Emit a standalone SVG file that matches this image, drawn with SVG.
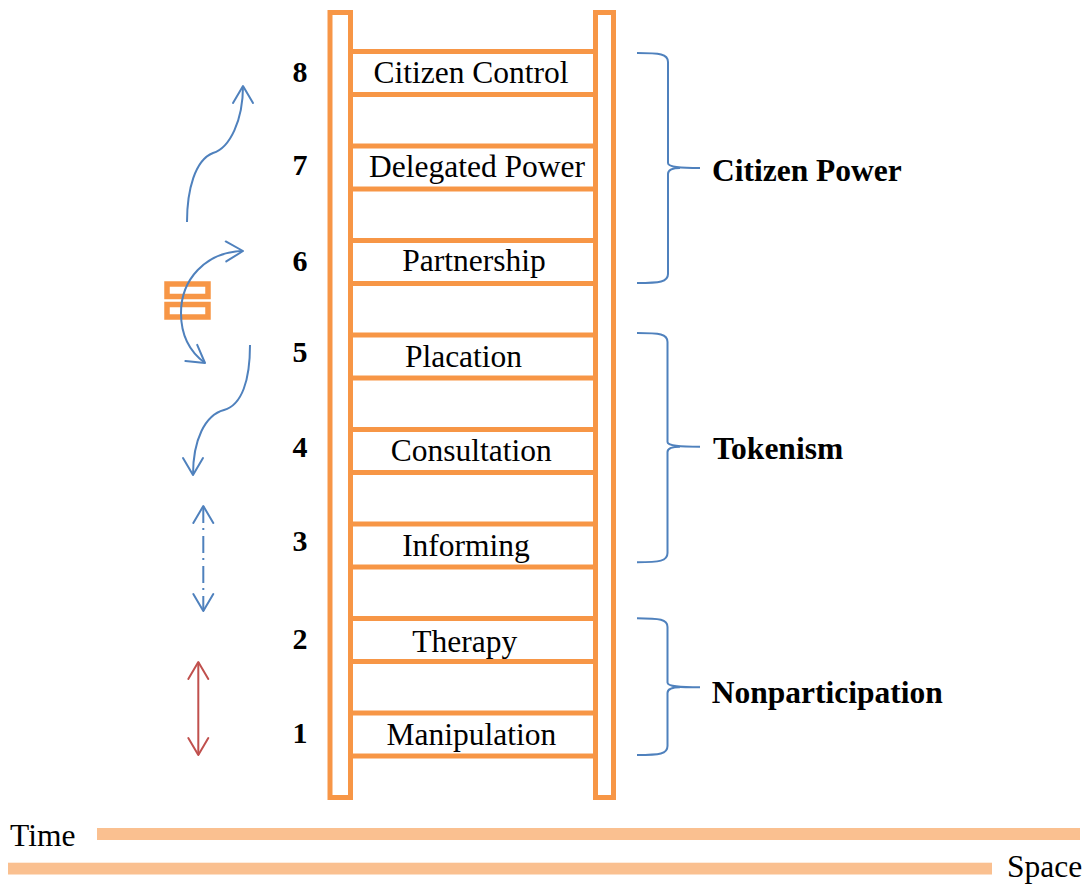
<svg xmlns="http://www.w3.org/2000/svg" width="1091" height="885" viewBox="0 0 1091 885">
  <style>
    .rail { fill: #FFFFFF; stroke: #F79646; stroke-width: 5; }
    .rung { fill: #FFFFFF; stroke: #F79646; stroke-width: 5; }
    .lbl { font-family: "Liberation Serif", "Times New Roman", serif; font-size: 31.5px; fill: #000000; text-anchor: middle; }
    .num { font-family: "Liberation Serif", "Times New Roman", serif; font-size: 30px; font-weight: bold; fill: #000000; text-anchor: middle; }
    .grp { font-family: "Liberation Serif", "Times New Roman", serif; font-size: 31.5px; font-weight: bold; fill: #000000; }
    .axis { font-family: "Liberation Serif", "Times New Roman", serif; font-size: 31.5px; fill: #000000; }
    .brace { fill: none; stroke: #4F81BD; stroke-width: 2; }
    .flow { fill: none; stroke: #4F81BD; stroke-width: 2; }
    .bar { fill: #FAC090; }
  </style>
  <defs>
    <marker id="headBlue" markerUnits="userSpaceOnUse" markerWidth="24" markerHeight="24" refX="18" refY="11" orient="auto-start-reverse" overflow="visible">
      <path d="M1,1 L18,11 L1,21" fill="none" stroke="#4F81BD" stroke-width="2" stroke-linejoin="round" stroke-linecap="round"/>
    </marker>
    <marker id="headRed" markerUnits="userSpaceOnUse" markerWidth="24" markerHeight="24" refX="18" refY="11" orient="auto-start-reverse" overflow="visible">
      <path d="M1,1 L18,11 L1,21" fill="none" stroke="#C0504D" stroke-width="2" stroke-linejoin="round" stroke-linecap="round"/>
    </marker>
  </defs>

  <rect width="1091" height="885" fill="#FFFFFF"/>

  <!-- ladder rails -->
  <g id="ladder">
    <rect class="rail" x="330" y="12.5" width="20.5" height="785"/>
    <rect class="rail" x="595.5" y="12.5" width="18" height="785"/>
  </g>

  <!-- rungs, top (8) to bottom (1) -->
  <g id="rung-8">
    <rect class="rung" x="350.5" y="51.5" width="245" height="43"/>
    <text class="lbl" x="471" y="83">Citizen Control</text>
    <text class="num" x="300" y="82">8</text>
  </g>
  <g id="rung-7">
    <rect class="rung" x="350.5" y="146" width="245" height="43"/>
    <text class="lbl" x="477" y="177">Delegated Power</text>
    <text class="num" x="300" y="175">7</text>
  </g>
  <g id="rung-6">
    <rect class="rung" x="350.5" y="240.5" width="245" height="43"/>
    <text class="lbl" x="474" y="271">Partnership</text>
    <text class="num" x="300" y="271">6</text>
  </g>
  <g id="rung-5">
    <rect class="rung" x="350.5" y="335" width="245" height="43"/>
    <text class="lbl" x="463.5" y="366.5">Placation</text>
    <text class="num" x="300" y="362">5</text>
  </g>
  <g id="rung-4">
    <rect class="rung" x="350.5" y="429.5" width="245" height="43"/>
    <text class="lbl" x="471.3" y="461">Consultation</text>
    <text class="num" x="300" y="457">4</text>
  </g>
  <g id="rung-3">
    <rect class="rung" x="350.5" y="524" width="245" height="43"/>
    <text class="lbl" x="466" y="556">Informing</text>
    <text class="num" x="300" y="551">3</text>
  </g>
  <g id="rung-2">
    <rect class="rung" x="350.5" y="618.5" width="245" height="43"/>
    <text class="lbl" x="464.7" y="652">Therapy</text>
    <text class="num" x="300" y="649">2</text>
  </g>
  <g id="rung-1">
    <rect class="rung" x="350.5" y="713" width="245" height="43"/>
    <text class="lbl" x="471.3" y="744.5">Manipulation</text>
    <text class="num" x="300" y="743">1</text>
  </g>

  <!-- grouping braces -->
  <g id="citizen-power">
    <path class="brace" d="M637,53 C660,53 668,54 668,62 L668,163 C668,167 680,168 700,168 M680,168 C672,168 668,170 668,174 L668,274 C668,282 660,283 637,283"/>
    <text class="grp" x="712" y="181">Citizen Power</text>
  </g>
  <g id="tokenism">
    <path class="brace" d="M637,333 C660,333 667.5,334 667.5,342 L667.5,442 C667.5,446 680,446.7 700,446.7 M680,446.7 C672,446.7 667.5,448.5 667.5,452 L667.5,553 C667.5,561 660,562.3 637,562.3"/>
    <text class="grp" x="713" y="459.3">Tokenism</text>
  </g>
  <g id="nonparticipation">
    <path class="brace" d="M637,618.3 C660,618.3 667.5,619.5 667.5,627 L667.5,682.5 C667.5,686.5 680,687.3 700,687.3 M680,687.3 C672,687.3 667.5,689 667.5,693 L667.5,746 C667.5,754 660,755 637,755"/>
    <text class="grp" x="711.7" y="703.3">Nonparticipation</text>
  </g>

  <!-- rung switch symbol -->
  <g id="switch">
    <rect x="167" y="284" width="41" height="12.5" fill="#FFFFFF" stroke="#F79646" stroke-width="5.5"/>
    <rect x="167" y="304.5" width="41" height="12.5" fill="#FFFFFF" stroke="#F79646" stroke-width="5.5"/>
  </g>

  <!-- movement arrows -->
  <g id="connectors">
    <path class="flow" d="M187,222 C187,190 195,160 213,153 C230,148 243,120 243,86" marker-end="url(#headBlue)"/>
    <path class="flow" d="M205,363 C190,352 181,335 181,313 C181,280 205,252 243,251" marker-start="url(#headBlue)" marker-end="url(#headBlue)"/>
    <path class="flow" d="M250,345 C250,380 242,405 224,410 C205,415 193,440 193,475" marker-end="url(#headBlue)"/>
    <path class="flow" d="M203.3,506 L203.3,611" stroke-dasharray="17 5 2 6" marker-start="url(#headBlue)" marker-end="url(#headBlue)"/>
    <path d="M198.3,662 L198.3,755" fill="none" stroke="#C0504D" stroke-width="2" marker-start="url(#headRed)" marker-end="url(#headRed)"/>
  </g>

  <!-- time and space axes -->
  <g id="time-axis">
    <rect class="bar" x="97" y="828" width="983" height="12"/>
    <text class="axis" x="10" y="845.5">Time</text>
  </g>
  <g id="space-axis">
    <rect class="bar" x="8" y="862.7" width="984" height="11.8"/>
    <text class="axis" x="1007" y="877">Space</text>
  </g>
</svg>
